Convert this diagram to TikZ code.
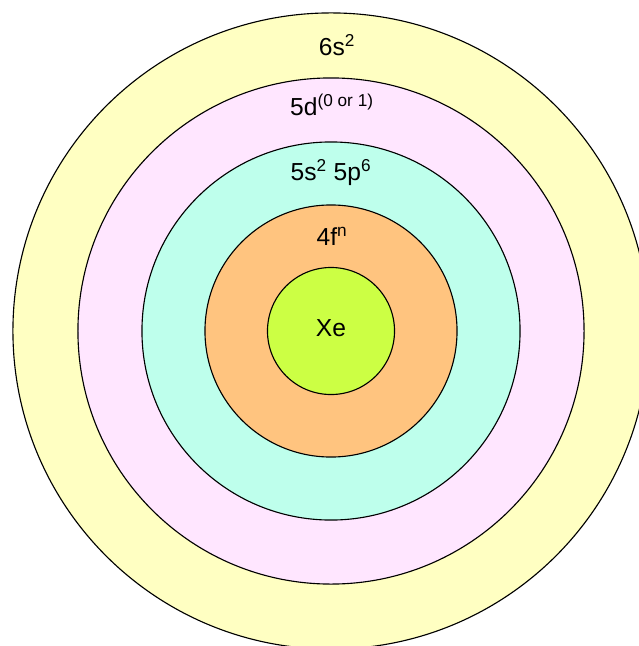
\documentclass[tikz,border=0pt]{standalone}
\usepackage{fontspec}
\setmainfont{Liberation Sans}
\definecolor{sixs}{HTML}{FFFFC2}
\definecolor{fived}{HTML}{FFE6FF}
\definecolor{fivesp}{HTML}{BEFFEC}
\definecolor{fourf}{HTML}{FFC47F}
\definecolor{xenon}{HTML}{CCFF44}
\begin{document}
\begin{tikzpicture}[x=0.025cm,y=-0.025cm,
  shell/.style={draw, circle, line width=0.8pt, inner sep=0pt},
  lbl/.style={anchor=base, font=\fontsize{17.5}{20}\selectfont}]
\useasboundingbox (0,0) rectangle (639,646);
\clip (0,0) rectangle (639,646);
\fill[white] (0,0) rectangle (639,646);
\coordinate (c) at (331,331);
\node[shell, fill=sixs, minimum size=15.9cm] (s6) at (c) {};
\node[shell, fill=fived, minimum size=12.65cm] (d5) at (c) {};
\node[shell, fill=fivesp, minimum size=9.45cm] (sp5) at (c) {};
\node[shell, fill=fourf, minimum size=6.3cm] (f4) at (c) {};
\node[shell, fill=xenon, minimum size=3.175cm] (xe) at (c) {};
\node[lbl] (l6s) at (337,55) {6s\textsuperscript{2}};
\node[lbl] (l5d) at (332,115) {5d\textsuperscript{(0 or 1)}};
\node[lbl] (l5sp) at (331,180) {5s\textsuperscript{2} 5p\textsuperscript{6}};
\node[lbl] (l4f) at (332,245) {4f\textsuperscript{n}};
\node[lbl] (lxe) at (331,336) {Xe};
\end{tikzpicture}
\end{document}
